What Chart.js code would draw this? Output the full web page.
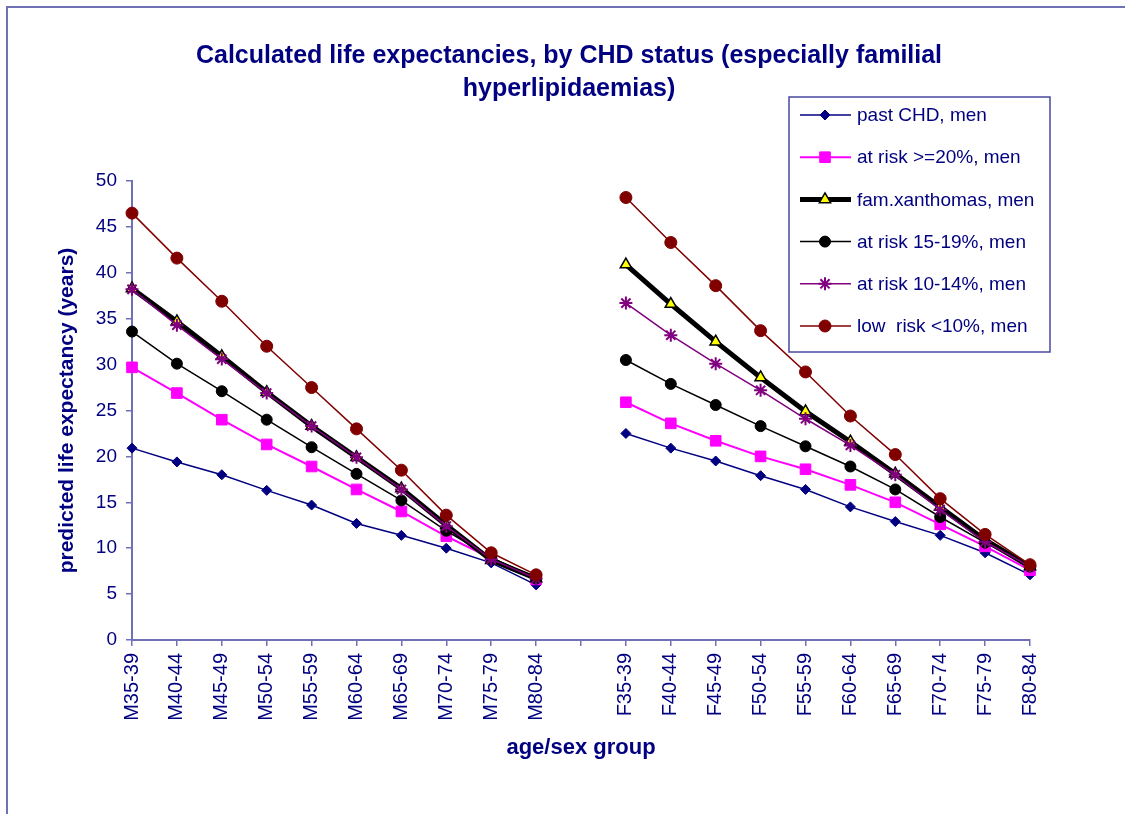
<!DOCTYPE html>
<html lang="en">
<head>
    <meta charset="UTF-8">
    <title>Calculated life expectancies, by CHD status</title>
    <script src="https://cdn.jsdelivr.net/npm/chart.js"></script>
    <style>
        body { margin: 0; background: #fff; }
        #wrap { position: relative; width: 1125px; height: 814px; }
    </style>
</head>
<body>
    <div id="wrap"><canvas id="chart"></canvas></div>

    <script>
        // Categories: men, one empty slot, women
        const groups = ['M35-39', 'M40-44', 'M45-49', 'M50-54', 'M55-59', 'M60-64', 'M65-69', 'M70-74', 'M75-79', 'M80-84',
            '',
            'F35-39', 'F40-44', 'F45-49', 'F50-54', 'F55-59', 'F60-64', 'F65-69', 'F70-74', 'F75-79', 'F80-84'];

        const pastChd   = [20.9, 19.4, 18.0, 16.3, 14.7, 12.7, 11.4, 10.0, 8.4, 6.0, null, 22.5, 20.9, 19.5, 17.9, 16.4, 14.5, 12.9, 11.4, 9.5, 7.1];
        const risk20    = [29.7, 26.9, 24.0, 21.3, 18.9, 16.4, 14.0, 11.3, 8.9, 6.6, null, 25.9, 23.6, 21.7, 20.0, 18.6, 16.9, 15.0, 12.6, 10.2, 7.6];
        const famXanth  = [38.3, 34.7, 30.9, 27.0, 23.3, 19.9, 16.5, 12.5, 8.7, 6.7, null, 40.9, 36.6, 32.5, 28.6, 24.9, 21.6, 18.1, 14.5, 10.9, 8.0];
        const risk15    = [33.6, 30.1, 27.1, 24.0, 21.0, 18.1, 15.2, 11.9, 9.0, 6.7, null, 30.5, 27.9, 25.6, 23.3, 21.1, 18.9, 16.4, 13.4, 10.6, 8.0];
        const risk10    = [38.2, 34.3, 30.6, 26.9, 23.3, 19.9, 16.4, 12.4, 8.8, 6.7, null, 36.7, 33.2, 30.1, 27.2, 24.1, 21.2, 18.0, 14.2, 10.7, 8.0];
        const lowRisk   = [46.5, 41.6, 36.9, 32.0, 27.5, 23.0, 18.5, 13.6, 9.5, 7.1, null, 48.2, 43.3, 38.6, 33.7, 29.2, 24.4, 20.2, 15.4, 11.5, 8.2];

        const yTicks = [0, 5, 10, 15, 20, 25, 30, 35, 40, 45, 50];

        const navy = '#000080';
        const axisColor = '#7070b4';
        const fontName = '"Liberation Sans", Arial, sans-serif';

        // Draws the frame, the title and the boxed legend
        const decorations = {
            id: 'decorations',
            beforeDraw(chart) {
                const ctx = chart.ctx;
                ctx.save();
                ctx.fillStyle = '#fff';
                ctx.fillRect(0, 0, chart.width, chart.height);
                ctx.strokeStyle = axisColor;
                ctx.lineWidth = 2;
                ctx.beginPath();
                ctx.moveTo(7, chart.height);
                ctx.lineTo(7, 7);
                ctx.lineTo(chart.width, 7);
                ctx.stroke();

                ctx.fillStyle = navy;
                ctx.font = 'bold 25px ' + fontName;
                ctx.textAlign = 'center';
                ctx.textBaseline = 'middle';
                ctx.fillText('Calculated life expectancies, by CHD status (especially familial', 569, 56);
                ctx.fillText('hyperlipidaemias)', 569, 89);
                ctx.restore();
            },
            afterDraw(chart) {
                const ctx = chart.ctx;
                const box = { x: 789, y: 97, w: 261, h: 255 };
                ctx.save();
                ctx.fillStyle = '#fff';
                ctx.fillRect(box.x, box.y, box.w, box.h);
                ctx.strokeStyle = '#4848a0';
                ctx.lineWidth = 1.5;
                ctx.strokeRect(box.x, box.y, box.w, box.h);

                ctx.font = '19px ' + fontName;
                ctx.textBaseline = 'middle';
                chart.data.datasets.forEach((ds, i) => {
                    const y = 115 + i * 42.2;
                    ctx.strokeStyle = ds.borderColor;
                    ctx.lineWidth = ds.borderWidth;
                    ctx.beginPath();
                    ctx.moveTo(800, y);
                    ctx.lineTo(851, y);
                    ctx.stroke();
                    ctx.fillStyle = ds.pointBackgroundColor;
                    ctx.strokeStyle = ds.pointBorderColor;
                    ctx.lineWidth = ds.pointBorderWidth;
                    Chart.helpers.drawPoint(ctx, {
                        pointStyle: ds.pointStyle,
                        radius: ds.pointRadius,
                        borderWidth: ds.pointBorderWidth,
                        rotation: 0
                    }, 825, y);
                    ctx.fillStyle = navy;
                    ctx.fillText(ds.label, 857, y + 1);
                });
                ctx.restore();
            }
        };

        const series = [
            { label: 'past CHD, men', data: pastChd, color: navy, width: 1.5, style: 'rectRot', radius: 5, fill: navy, pbw: 1 },
            { label: 'at risk >=20%, men', data: risk20, color: '#ff00ff', width: 2, style: 'rect', radius: 7.5, fill: '#ff00ff', pbw: 1 },
            { label: 'fam.xanthomas, men', data: famXanth, color: '#000000', width: 5, style: 'triangle', radius: 6.5, fill: '#ffff00', pbw: 1.5 },
            { label: 'at risk 15-19%, men', data: risk15, color: '#000000', width: 1.5, style: 'circle', radius: 5.5, fill: '#000000', pbw: 1 },
            { label: 'at risk 10-14%, men', data: risk10, color: '#800080', width: 1.5, style: 'star', radius: 6.5, fill: '#800080', pbw: 2 },
            { label: 'low  risk <10%, men', data: lowRisk, color: '#800000', width: 1.5, style: 'circle', radius: 6, fill: '#800000', pbw: 1 }
        ];

        const datasets = series.map((s, i) => ({
            label: s.label,
            data: s.data,
            borderColor: s.color,
            borderWidth: s.width,
            pointStyle: s.style,
            pointRadius: s.radius,
            pointBackgroundColor: s.fill,
            pointBorderColor: s.color,
            pointBorderWidth: s.pbw,
            spanGaps: false,
            tension: 0,
            order: series.length - i   // later series drawn on top, as in the original
        }));

        new Chart(document.getElementById('chart'), {
            type: 'line',
            data: { labels: groups, datasets: datasets },
            options: {
                responsive: true,
                maintainAspectRatio: false,
                animation: false,
                layout: { padding: { top: 181, right: 95, bottom: 0, left: 0 } },
                plugins: {
                    legend: { display: false },
                    title: { display: false },
                    tooltip: { enabled: false }
                },
                scales: {
                    x: {
                        type: 'category',
                        offset: false,
                        afterFit: (scale) => { scale.height = 174; },
                        border: { color: axisColor, width: 2 },
                        grid: { drawOnChartArea: false, drawTicks: true, tickLength: 6, color: axisColor, lineWidth: 1.5 },
                        ticks: {
                            autoSkip: false,
                            maxRotation: 90,
                            minRotation: 90,
                            padding: 7,
                            color: navy,
                            font: { family: fontName, size: 20 }
                        },
                        title: {
                            display: true,
                            text: 'age/sex group',
                            color: navy,
                            font: { family: fontName, size: 22, weight: 'bold' },
                            padding: { top: 0, bottom: 53 }
                        }
                    },
                    y: {
                        min: 0,
                        max: 50,
                        afterFit: (scale) => { scale.width = 132; },
                        afterBuildTicks: (scale) => { scale.ticks = yTicks.map(v => ({ value: v })); },
                        border: { color: axisColor, width: 2 },
                        grid: { drawOnChartArea: false, drawTicks: true, tickLength: 6, color: axisColor, lineWidth: 1.5 },
                        ticks: {
                            padding: 9,
                            color: navy,
                            font: { family: fontName, size: 19 }
                        },
                        title: {
                            display: true,
                            text: 'predicted life expectancy (years)',
                            color: navy,
                            font: { family: fontName, size: 21, weight: 'bold' },
                            padding: { top: 55, bottom: 0 }
                        }
                    }
                }
            },
            plugins: [decorations]
        });
    </script>
</body>
</html>
